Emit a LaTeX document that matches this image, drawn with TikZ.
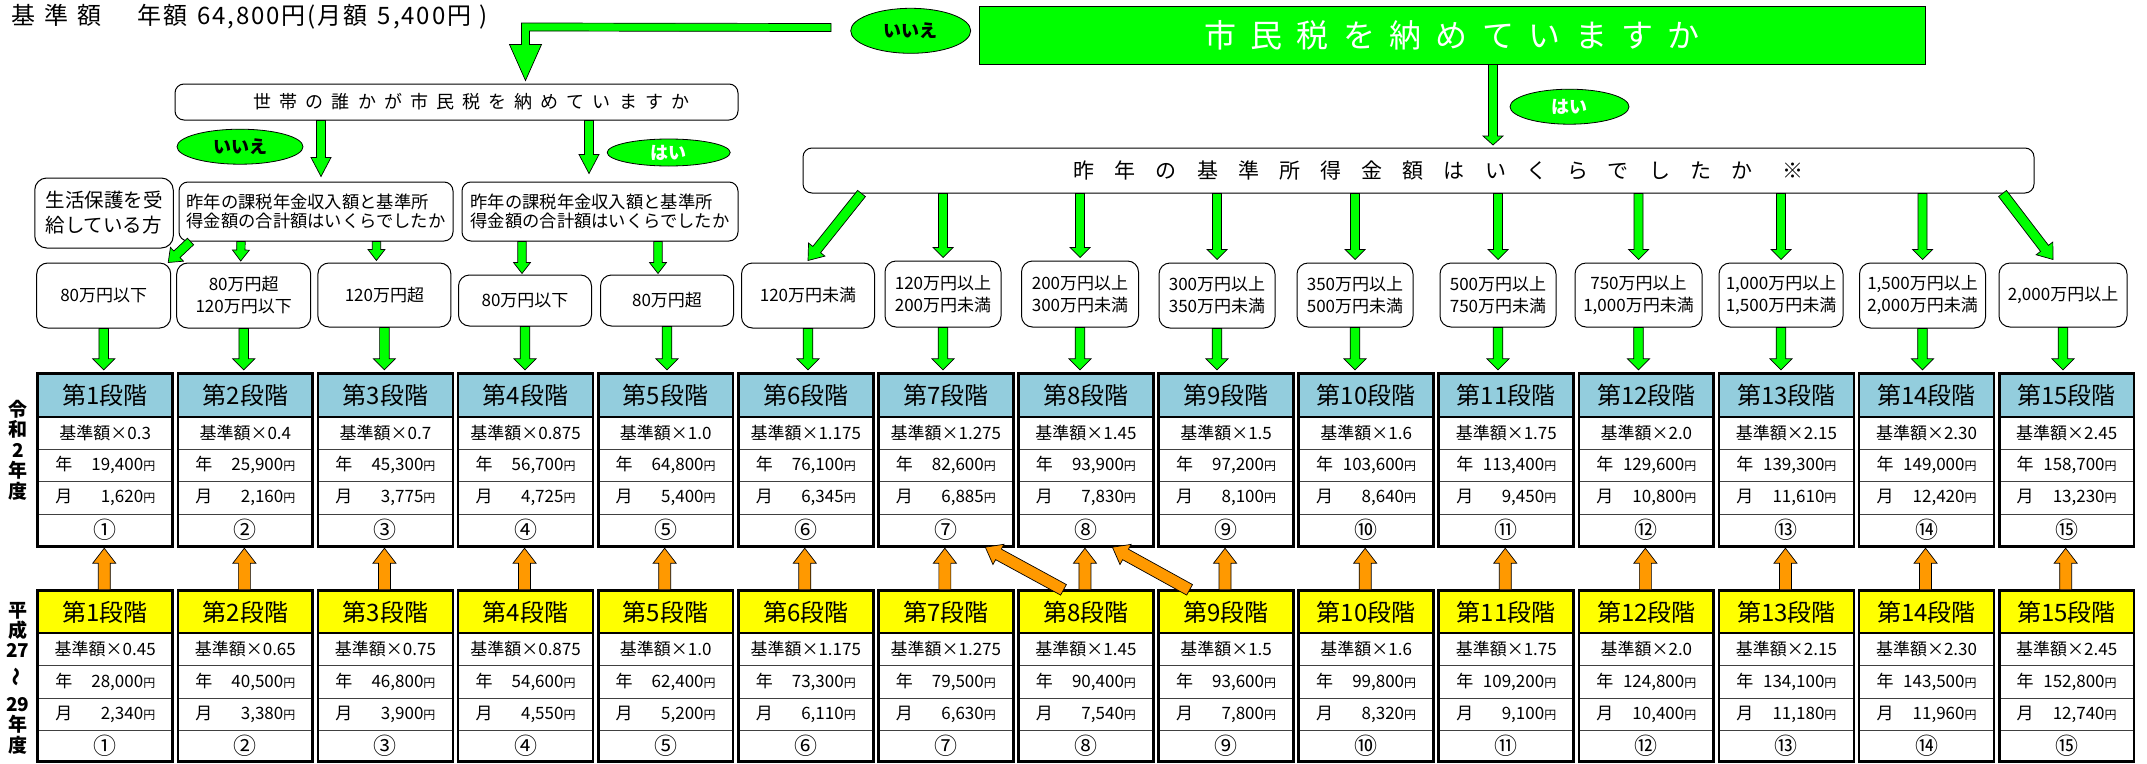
\documentclass[tikz,border=0pt]{standalone}
\usepackage{fontspec}
\setmainfont{Noto Sans CJK JP}
\usetikzlibrary{calc,shapes.geometric}
\definecolor{lgreen}{HTML}{00FF00}
\definecolor{orng}{HTML}{FF9900}
\definecolor{hblue}{HTML}{93CDDD}
\definecolor{hyellow}{HTML}{FFFF00}
\newcommand{\fsz}[2]{\fontsize{#1}{#2}\selectfont}
% block arrow: style, start, tip, shaft half width, head half width, head length
\newcommand{\blkarrow}[6]{%
  \coordinate (bkA) at (#2);
  \coordinate (bkB) at (#3);
  \coordinate (bkH) at ($(bkB)!#6pt!(bkA)$);
  \path[#1] ($(bkA)!#4pt!90:(bkB)$) -- ($(bkH)!#4pt!90:(bkB)$) -- ($(bkH)!#5pt!90:(bkB)$) -- (bkB)
     -- ($(bkH)!#5pt!-90:(bkB)$) -- ($(bkH)!#4pt!-90:(bkB)$) -- ($(bkA)!#4pt!-90:(bkB)$) -- cycle;
}
\begin{document}
\begin{tikzpicture}[x=1pt,y=-1pt,
  gar/.style={fill=lgreen,draw=black,line width=0.7pt},
  oar/.style={fill=orng,draw=black,line width=0.7pt},
  rbox/.style={draw=black,line width=1pt,rounded corners=11pt,fill=white,align=center,inner sep=0pt,font=\fsz{17}{22}},
  qbox/.style={draw=black,line width=1pt,rounded corners=9pt,fill=white,inner sep=0pt},
  yn/.style={ellipse,draw=black,line width=0.8pt,fill=lgreen,inner sep=0pt,font=\bfseries\fsz{18}{18}},
  uhead/.style={fill=hblue,minimum width=134.5pt,minimum height=43pt,inner sep=0pt,font=\fsz{24}{24}},
  lhead/.style={fill=hyellow,minimum width=134.5pt,minimum height=42pt,inner sep=0pt,font=\fsz{24}{24}},
  tcell/.style={minimum width=134.5pt,inner sep=0pt,font=\fsz{17}{17}},
  rline/.style={draw=black!75,line width=1.3pt},
  hline/.style={draw=black,line width=1.8pt},
  tframe/.style={draw=black,line width=2.7pt},
]
\useasboundingbox[fill=white] (0,0) rectangle (2147,763);

% title
\node[anchor=west,inner sep=0pt,font=\fsz{24}{24}\addfontfeatures{LetterSpace=8}] (title) at (11,17)
  {基\hspace{9pt}準\hspace{9pt}額\hspace{36pt}年額\kern10pt 64,800円(月額\kern10pt 5,400円\kern8pt)};

% question boxes
\node[draw=black,line width=1pt,fill=lgreen,minimum width=946pt,minimum height=58pt,inner sep=0pt,text=white,
      font=\fsz{32}{32}\addfontfeatures{LetterSpace=45}] (q1) at (1452,35) {市民税を納めていますか};
\node[qbox,minimum width=1231pt,minimum height=45pt,font=\fsz{21}{21}\addfontfeatures{LetterSpace=96}] (kijun) at (1418.5,170.5)
   {\hspace*{40pt}昨年の基準所得金額はいくらでしたか\hspace{30pt}※};
\node[qbox,minimum width=563pt,minimum height=36pt,font=\fsz{18}{18}\addfontfeatures{LetterSpace=45}] (setai) at (456.5,102)
   {\hspace*{30pt}世帯の誰かが市民税を納めていますか};
\node[qbox,minimum width=274pt,minimum height=59pt,align=left,font=\fsz{17.3}{19.5}] (kazei1) at (316,211.5)
   {昨年の課税年金収入額と基準所\\得金額の合計額はいくらでしたか};
\node[qbox,minimum width=276pt,minimum height=59pt,align=left,font=\fsz{17.3}{19.5}] (kazei2) at (600,211.5)
   {昨年の課税年金収入額と基準所\\得金額の合計額はいくらでしたか};
\node[qbox,rounded corners=12pt,minimum width=138.5pt,minimum height=70pt,align=left,font=\fsz{19.5}{25}] (seikatsu) at (104,213)
   {生活保護を受\\給している方};

% yes / no ellipses
\node[yn,minimum width=120pt,minimum height=45pt] (no1) at (910.7,30.8) {いいえ};
\node[yn,minimum width=119pt,minimum height=35pt,text=white] (yes1) at (1569.5,106.7) {はい};
\node[yn,minimum width=126pt,minimum height=35pt] (no2) at (240,146.7) {いいえ};
\node[yn,minimum width=123pt,minimum height=27pt,text=white] (yes2) at (668.7,152.5) {はい};

% range boxes
\foreach \k/\cx/\w/\cy/\h/\t in {
1/103.7/134/295.5/65/{80万円以下},
2/243.7/134/295.5/65/{80万円超\\120万円以下},
3/384.4/133/295/64/{120万円超},
4/525/133/300.5/51/{80万円以下},
5/667/133/300.5/51/{80万円超},
6/808/133/295.5/65/{120万円未満},
7/943/116/294/66/{120万円以上\\200万円未満},
8/1080/117/294/66/{200万円以上\\300万円未満},
9/1217/116/295.5/65/{300万円以上\\350万円未満},
10/1355/116/295/64/{350万円以上\\500万円未満},
11/1498/116/295/64/{500万円以上\\750万円未満},
12/1638.5/127/295/64/{750万円以上\\1,000万円未満},
13/1781/124/295/64/{1,000万円以上\\1,500万円未満},
14/1922.5/126/295.5/65/{1,500万円以上\\2,000万円未満},
15/2063/128/295/64/{2,000万円以上}}
{\node[rbox,minimum width=\w pt,minimum height=\h pt] (r\k) at (\cx,\cy) {\t};}

% upper table (Reiwa 2)
\foreach \i/\ma/\ya/\mo in {
1/0.3/{19,400}/{1,620}, 2/0.4/{25,900}/{2,160}, 3/0.7/{45,300}/{3,775}, 4/0.875/{56,700}/{4,725},
5/1.0/{64,800}/{5,400}, 6/1.175/{76,100}/{6,345}, 7/1.275/{82,600}/{6,885}, 8/1.45/{93,900}/{7,830},
9/1.5/{97,200}/{8,100}, 10/1.6/{103,600}/{8,640}, 11/1.75/{113,400}/{9,450}, 12/2.0/{129,600}/{10,800},
13/2.15/{139,300}/{11,610}, 14/2.30/{149,000}/{12,420}, 15/2.45/{158,700}/{13,230}}
{
  \pgfmathsetmacro{\cx}{105.25+(\i-1)*140.1}
  \node[uhead] (uh\i) at (\cx,395.5) {第\i{}段階};
  \node[tcell,minimum height=32pt] (ua\i) at (\cx,433) {基準額×\ma};
  \node[tcell,minimum height=32pt] (uy\i) at (\cx,465) {\makebox[100pt]{年\hfill\ya{\fsz{12}{12}円}}};
  \node[tcell,minimum height=33pt] (um\i) at (\cx,497.5) {\makebox[100pt]{月\hfill\mo{\fsz{12}{12}円}}};
  \node[tcell,minimum height=32pt,font=\fsz{23}{23}] (uc\i) at (\cx,530) {\char\numexpr9311+\i\relax};
  \draw[hline] (uh\i.south west) -- (uh\i.south east);
  \draw[rline] (ua\i.south west) -- (ua\i.south east);
  \draw[rline] (uy\i.south west) -- (uy\i.south east);
  \draw[rline] (um\i.south west) -- (um\i.south east);
  \draw[tframe] (uh\i.north west) rectangle (uc\i.south east);
}

% lower table (Heisei 27-29)
\foreach \i/\ma/\ya/\mo in {
1/0.45/{28,000}/{2,340}, 2/0.65/{40,500}/{3,380}, 3/0.75/{46,800}/{3,900}, 4/0.875/{54,600}/{4,550},
5/1.0/{62,400}/{5,200}, 6/1.175/{73,300}/{6,110}, 7/1.275/{79,500}/{6,630}, 8/1.45/{90,400}/{7,540},
9/1.5/{93,600}/{7,800}, 10/1.6/{99,800}/{8,320}, 11/1.75/{109,200}/{9,100}, 12/2.0/{124,800}/{10,400},
13/2.15/{134,100}/{11,180}, 14/2.30/{143,500}/{11,960}, 15/2.45/{152,800}/{12,740}}
{
  \pgfmathsetmacro{\cx}{105.25+(\i-1)*140.1}
  \node[lhead] (lh\i) at (\cx,612) {第\i{}段階};
  \node[tcell,minimum height=32pt] (la\i) at (\cx,649) {基準額×\ma};
  \node[tcell,minimum height=33pt] (ly\i) at (\cx,681.5) {\makebox[100pt]{年\hfill\ya{\fsz{12}{12}円}}};
  \node[tcell,minimum height=32pt] (lm\i) at (\cx,714) {\makebox[100pt]{月\hfill\mo{\fsz{12}{12}円}}};
  \node[tcell,minimum height=31pt,font=\fsz{23}{23}] (lc\i) at (\cx,745.5) {\char\numexpr9311+\i\relax};
  \draw[hline] (lh\i.south west) -- (lh\i.south east);
  \draw[rline] (la\i.south west) -- (la\i.south east);
  \draw[rline] (ly\i.south west) -- (ly\i.south east);
  \draw[rline] (lm\i.south west) -- (lm\i.south east);
  \draw[tframe] (lh\i.north west) rectangle (lc\i.south east);
}

% side labels
\node[font=\bfseries\fsz{19}{20.5},align=center,inner sep=0pt] (reiwa) at (18,450) {令\\和\\2\\年\\度};
\node[font=\bfseries\fsz{19}{20.3},align=center,inner sep=0pt] (heisei) at (18,678)
   {平\\成\\27\\[8pt]\rotatebox{90}{～}\\[5pt]29\\年\\度};

% bent arrow from top
\coordinate (bs) at (831,27.5);
\coordinate (bt) at ($(setai.north west)+(351,-3)$);
\draw[gar] ($(bs)+(0,-4)$) -- ($(bt)+(-4,-57.5)$) -- ($(bt)+(-4,-36)$) -- ($(bt)+(-16,-36)$) -- (bt)
   -- ($(bt)+(16,-36)$) -- ($(bt)+(4,-36)$) -- ($(bt)+(4,-49.5)$) -- ($(bs)+(0,4)$) -- cycle;

% green arrows
\blkarrow{gar}{$(q1.south)+(41,0)$}{$(kijun.north)+(74.5,-2.5)$}{4.5}{10}{9}
\blkarrow{gar}{$(setai.south)+(-135.5,0)$}{$(kazei1.north)+(5,-5)$}{4.5}{10}{19}
\blkarrow{gar}{$(setai.south)+(132.5,0)$}{$(kazei2.north)+(-11,-8)$}{4.5}{10}{19}
\blkarrow{gar}{$(kazei1.south west)+(12,0)$}{$(r1.north east)+(-3,0)$}{4.5}{9.5}{12}
\blkarrow{gar}{$(kazei1.south)+(-75,0)$}{$(r2.north)+(-3,-1.5)$}{4.2}{8.5}{11}
\blkarrow{gar}{$(kazei1.south)+(60.5,0)$}{$(r3.north)+(-8,-2)$}{4.2}{8.5}{11}
\blkarrow{gar}{$(kazei2.south)+(-78,0)$}{$(r4.north)+(-3,-1)$}{4.2}{8.5}{11}
\blkarrow{gar}{$(kazei2.south)+(58,0)$}{$(r5.north)+(-9,-1)$}{4.2}{8.5}{11}
\blkarrow{gar}{$(kijun.south west)+(59,0)$}{$(r6.north)+(0,-2)$}{5}{10.5}{14}
\foreach \k in {7,...,14}{\blkarrow{gar}{r\k.north |- kijun.south}{$(r\k.north)+(0,-3)$}{4.5}{10}{10}}
\blkarrow{gar}{$(kijun.south east)+(-32,0)$}{$(r15.north)+(-10,-3)$}{5}{10.5}{14}
\foreach \k in {1,...,15}{\blkarrow{gar}{r\k.south}{$(r\k.south |- uh\k.north)+(0,-4)$}{4.8}{11}{11}}

% orange arrows
\foreach \k in {1,...,15}{\blkarrow{oar}{$(lh\k.north)+(-1,-1)$}{$(uc\k.south)+(-1,2)$}{6}{11.5}{15}}
\blkarrow{oar}{$(lh8.north west)+(45,-1)$}{$(uc7.south east)+(-28,1)$}{6}{11.5}{15}
\blkarrow{oar}{$(lh9.north west)+(31,-1)$}{$(uc8.south east)+(-41,1)$}{6}{11.5}{15}
\end{tikzpicture}
\end{document}
